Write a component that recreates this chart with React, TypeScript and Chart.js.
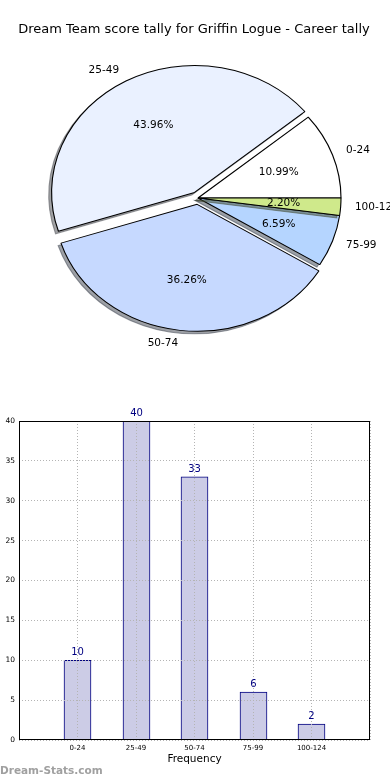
import React, { useEffect, useRef } from 'react';
import { Chart, registerables } from 'chart.js';

Chart.register(...registerables);

const TITLE = 'Dream Team score tally for Griffin Logue - Career tally';
const categories = ['0-24', '25-49', '50-74', '75-99', '100-124'];
const counts = [10, 40, 33, 6, 2];
const pieColors = ['#ffffff', '#eaf1ff', '#c6d9ff', '#b5d5ff', '#cfe98b'];
const explode = [0, 0.05, 0.05, 0, 0];
const yMin = 0;
const yMax = 40;
const yStep = 5;
const xTitle = 'Frequency';
const watermark = 'Dream-Stats.com';

const FONT = '"DejaVu Sans", sans-serif';
const R_Y = 127;
const SX = 143 / 127;
const SHADOW_X = -0.02 * 127; // pre-scale units
const SHADOW_Y = 0.02 * 127;

function shadowColor(hex: string) {
  const h = hex.replace('#', '');
  const r = parseInt(h.slice(0, 2), 16);
  const g = parseInt(h.slice(2, 4), 16);
  const b = parseInt(h.slice(4, 6), 16);
  return `rgba(${Math.round(r * 0.3)},${Math.round(g * 0.3)},${Math.round(b * 0.3)},0.5)`;
}

const pieDrawPlugin = {
  id: 'pieDraw',
  beforeDatasetDraw(chart: any, args: any) {
    const ctx = chart.ctx as CanvasRenderingContext2D;
    const els = args.meta.data;
    const n = els.length;
    if (!n) return false;
    const cx = els[0].x;
    const cy = els[0].y;
    ctx.save();
    ctx.translate(cx, cy);
    ctx.scale(SX, 1);
    ctx.translate(-cx, -cy);
    for (let k = 0; k < n; k++) {
      const el = els[n - 1 - k];
      const { x, y, startAngle, endAngle, outerRadius } = el.getProps(
        ['x', 'y', 'startAngle', 'endAngle', 'outerRadius'],
        true
      );
      const mid = (startAngle + endAngle) / 2;
      const ex = explode[k] * outerRadius;
      const dx = Math.cos(mid) * ex;
      const dy = Math.sin(mid) * ex;
      // shadow
      ctx.save();
      ctx.translate(dx + SHADOW_X, dy + SHADOW_Y);
      ctx.beginPath();
      ctx.moveTo(x, y);
      ctx.arc(x, y, outerRadius, startAngle, endAngle);
      ctx.closePath();
      const sc = shadowColor(pieColors[k]);
      ctx.fillStyle = sc;
      ctx.fill();
      ctx.lineWidth = 1;
      ctx.strokeStyle = sc;
      ctx.stroke();
      ctx.restore();
      // wedge
      ctx.save();
      ctx.translate(dx, dy);
      el.draw(ctx);
      ctx.restore();
    }
    ctx.restore();
    return false;
  },
  afterDraw(chart: any) {
    const ctx = chart.ctx as CanvasRenderingContext2D;
    const els = chart.getDatasetMeta(0).data;
    const n = els.length;
    const total = counts.reduce((a, b) => a + b, 0);
    ctx.save();
    ctx.fillStyle = '#000';
    ctx.textBaseline = 'middle';
    ctx.font = `13px ${FONT}`;
    ctx.textAlign = 'center';
    ctx.fillText(TITLE, 194, 30);
    ctx.font = `10.5px ${FONT}`;
    for (let k = 0; k < n; k++) {
      const el = els[n - 1 - k];
      const { x, y, startAngle, endAngle, outerRadius } = el.getProps(
        ['x', 'y', 'startAngle', 'endAngle', 'outerRadius'],
        true
      );
      const mid = (startAngle + endAngle) / 2;
      const ux = Math.cos(mid);
      const uy = Math.sin(mid);
      const ex = explode[k] * outerRadius;
      const px = x + ux * ex * SX;
      const py = y + uy * ex;
      const lx = px + ux * 1.1 * outerRadius * SX;
      const ly = py + uy * 1.1 * outerRadius;
      ctx.textAlign = ux > 0 ? 'left' : 'right';
      ctx.fillText(categories[k], lx, ly);
      const tx = px + ux * 0.6 * outerRadius * SX;
      const ty = py + uy * 0.6 * outerRadius;
      ctx.textAlign = 'center';
      ctx.fillText(((counts[k] / total) * 100).toFixed(2) + '%', tx, ty);
    }
    ctx.restore();
  },
};

const barExtrasPlugin = {
  id: 'barExtras',
  beforeDatasetsDraw(chart: any) {
    // snap bar edges to whole pixels for crisp borders
    chart.getDatasetMeta(0).data.forEach((el: any) => {
      const w = el.width;
      el.x = Math.round(el.x - w / 2) + w / 2;
    });
  },
  afterDraw(chart: any) {
    const ctx = chart.ctx as CanvasRenderingContext2D;
    const { left, right, top, bottom } = chart.chartArea;
    ctx.save();
    ctx.strokeStyle = '#000';
    ctx.lineWidth = 1;
    ctx.strokeRect(left + 0.5, top + 0.5, right - left - 1, bottom - top - 1);
    const els = chart.getDatasetMeta(0).data;
    ctx.fillStyle = '#000080';
    ctx.font = `10px ${FONT}`;
    ctx.textAlign = 'center';
    ctx.textBaseline = 'alphabetic';
    els.forEach((el: any, i: number) => {
      ctx.fillText(String(counts[i]), el.x, el.y - 5);
    });
    ctx.restore();
  },
};

export default function App() {
  const pieRef = useRef<HTMLCanvasElement>(null);
  const barRef = useRef<HTMLCanvasElement>(null);

  useEffect(() => {
    const revLabels = [...categories].reverse();
    const revCounts = [...counts].reverse();
    const revColors = [...pieColors].reverse();

    const pie = new Chart(pieRef.current as HTMLCanvasElement, {
      type: 'pie',
      data: {
        labels: revLabels,
        datasets: [
          {
            data: revCounts,
            backgroundColor: revColors,
            borderColor: '#000',
            borderWidth: 1,
            radius: R_Y,
          } as any,
        ],
      },
      options: {
        animation: false,
        responsive: false,
        events: [],
        rotation: 90,
        radius: R_Y,
        layout: { padding: { left: 6, right: 0, top: 0, bottom: 4 } },
        plugins: {
          legend: { display: false },
          tooltip: { enabled: false },
          title: { display: false },
        },
      } as any,
      plugins: [pieDrawPlugin as any],
    });

    const bar = new Chart(barRef.current as HTMLCanvasElement, {
      type: 'bar',
      data: {
        datasets: [
          {
            data: counts.map((v, i) => ({ x: i, y: v })),
            backgroundColor: '#ccccE6',
            borderColor: '#000080',
            borderWidth: 1,
            barThickness: 27,
          } as any,
        ],
      },
      options: {
        animation: false,
        responsive: false,
        events: [],
        layout: { padding: { top: 21, right: 20, left: 0, bottom: 0 } },
        plugins: {
          legend: { display: false },
          tooltip: { enabled: false },
        },
        scales: {
          x: {
            type: 'linear',
            offset: false,
            min: -1,
            max: categories.length,
            ticks: {
              stepSize: 1,
              autoSkip: false,
              maxRotation: 0,
              padding: 4,
              color: '#000',
              font: { size: 7, family: FONT },
              callback: (v: any) => categories[v as number] ?? '',
            },
            grid: { color: '#b4b4b4', drawTicks: false, z: 1, lineWidth: 1, offset: false },
            border: { display: false, dash: [1, 2] },
            title: {
              display: true,
              text: xTitle,
              color: '#000',
              font: { size: 10.5, family: FONT },
              padding: { top: 0, bottom: 14 },
            },
            afterFit: (s: any) => {
              s.height = 40;
            },
          },
          y: {
            min: yMin,
            max: yMax,
            ticks: {
              stepSize: yStep,
              padding: 4,
              color: '#000',
              font: { size: 7.5, family: FONT },
            },
            grid: { color: '#b4b4b4', drawTicks: false, z: 1, lineWidth: 1 },
            border: { display: false, dash: [1, 2] },
            afterFit: (s: any) => {
              s.width = 19;
            },
          },
        },
      } as any,
      plugins: [barExtrasPlugin as any],
    });

    return () => {
      pie.destroy();
      bar.destroy();
    };
  }, []);

  return (
    <div
      style={{
        position: 'absolute',
        left: 0,
        top: 0,
        width: 390,
        height: 780,
        background: '#fff',
        overflow: 'hidden',
      }}
    >
      <canvas ref={pieRef} width={390} height={400} style={{ position: 'absolute', left: 0, top: 0 }} />
      <canvas ref={barRef} width={390} height={380} style={{ position: 'absolute', left: 0, top: 400 }} />
      <div
        style={{
          position: 'absolute',
          left: 0,
          top: 763,
          font: `bold 10.5px ${FONT}`,
          lineHeight: '14px',
          color: '#a0a0a0',
          whiteSpace: 'nowrap',
        }}
      >
        {watermark}
      </div>
    </div>
  );
}
